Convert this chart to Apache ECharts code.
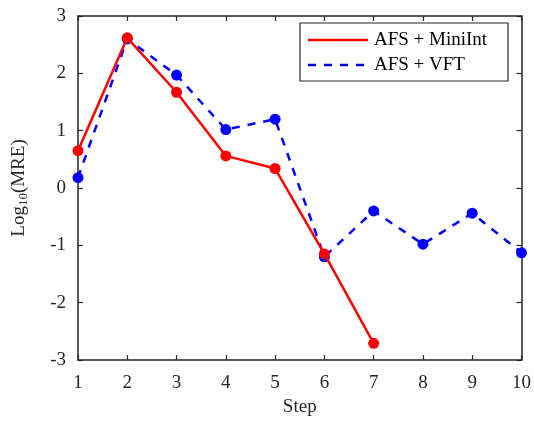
<!DOCTYPE html>
<html>
<head>
<meta charset="utf-8">
<script src="https://cdn.jsdelivr.net/npm/echarts@6/dist/echarts.min.js"></script>
<style>
    html, body { margin: 0; padding: 0; background: #fff; }
    #box { width: 534px; height: 422px; }
</style>
</head>
<body>
<div id="box"></div>
<script>
; (function () {
    const steps = [1, 2, 3, 4, 5, 6, 7, 8, 9, 10];
    const miniInt = [0.65, 2.62, 1.67, 0.56, 0.34, -1.15, -2.71];
    const vft = [0.18, 2.6, 1.97, 1.02, 1.2, -1.2, -0.4, -0.98, -0.44, -1.13];
    const seriesNames = ['AFS + MiniInt', 'AFS + VFT'];

    const font = 'Liberation Serif';
    const axisColor = '#262626';

    function pairs(vals) {
        return vals.map((v, i) => [steps[i], v]);
    }

    const chart = echarts.init(document.getElementById('box'));

    // shared look for all four sides of the box
    const baseAxis = {
        axisLine: { onZero: false, lineStyle: { color: axisColor, width: 1.5 } },
        axisTick: { inside: true, length: 5, lineStyle: { color: axisColor, width: 1.2 } },
        splitLine: { show: false }
    };

    const option = {
        animation: false,
        grid: { left: 78, right: 10, top: 16, bottom: 62 },
        xAxis: [
            Object.assign({}, baseAxis, {
                type: 'value', min: 1, max: 10, interval: 1,
                name: 'Step', nameLocation: 'middle', nameGap: 37,
                nameTextStyle: { fontFamily: font, fontSize: 19, color: axisColor },
                axisLabel: { fontFamily: font, fontSize: 19, color: axisColor, margin: 14 }
            }),
            Object.assign({}, baseAxis, {
                type: 'value', min: 1, max: 10, interval: 1, position: 'top',
                axisLabel: { show: false }
            })
        ],
        yAxis: [
            Object.assign({}, baseAxis, {
                type: 'value', min: -3, max: 3, interval: 1,
                name: 'Log{sub|10}(MRE)', nameLocation: 'middle', nameGap: 48, nameRotate: 90,
                nameTextStyle: {
                    fontFamily: font, fontSize: 19, color: axisColor,
                    rich: { sub: { fontFamily: font, fontSize: 13, color: axisColor, verticalAlign: 'bottom', padding: [8, 0, 0, 0] } }
                },
                axisLabel: { fontFamily: font, fontSize: 19, color: axisColor, margin: 12 }
            }),
            Object.assign({}, baseAxis, {
                type: 'value', min: -3, max: 3, interval: 1, position: 'right',
                axisLabel: { show: false }
            })
        ],
        series: [
            {
                name: seriesNames[0], type: 'line', data: pairs(miniInt),
                symbol: 'circle', symbolSize: 11,
                lineStyle: { color: '#ff0000', width: 2.5 },
                itemStyle: { color: '#ff0000' }, z: 3
            },
            {
                name: seriesNames[1], type: 'line', data: pairs(vft),
                symbol: 'circle', symbolSize: 11,
                lineStyle: { color: '#0000ff', width: 2.5, type: [8, 8] },
                itemStyle: { color: '#0000ff' }, z: 2
            }
        ],
        graphic: [
            { type: 'rect', shape: { x: 300, y: 23, width: 208, height: 58 },
              style: { fill: '#fff', stroke: axisColor, lineWidth: 1.2 }, z: 10 },
            { type: 'line', shape: { x1: 308, y1: 40, x2: 368, y2: 40 },
              style: { stroke: '#ff0000', lineWidth: 2.5 }, z: 11 },
            { type: 'line', shape: { x1: 308, y1: 65, x2: 368, y2: 65 },
              style: { stroke: '#0000ff', lineWidth: 2.5, lineDash: [8, 8] }, z: 11 },
            { type: 'text', x: 374, y: 40, z: 11,
              style: { text: seriesNames[0], font: '19px "Liberation Serif"', fill: '#000', verticalAlign: 'middle' } },
            { type: 'text', x: 374, y: 65, z: 11,
              style: { text: seriesNames[1], font: '19px "Liberation Serif"', fill: '#000', verticalAlign: 'middle' } }
        ]
    };

    chart.setOption(option);
})()
</script>
</body>
</html>
